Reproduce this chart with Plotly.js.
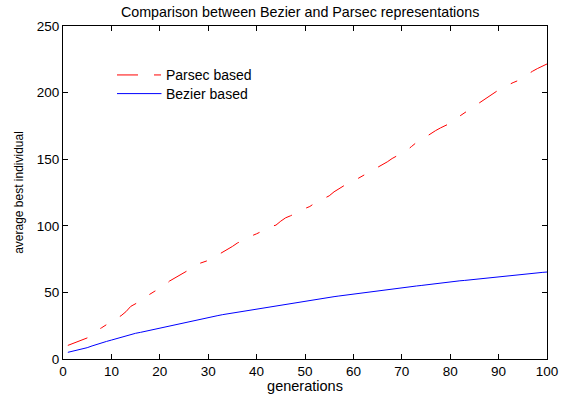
<!DOCTYPE html>
<html>
<head>
<meta charset="utf-8">
<script src="https://cdn.plot.ly/plotly-3.0.1.min.js"></script>
<style>html,body{margin:0;padding:0;background:#fff}#chart{width:565px;height:394px}</style>
</head>
<body>
<div id="chart"></div>
<script>
var generations = [];
for (var i = 1; i <= 100; i++) generations.push(i);

var parsecValues = [
  10.2, 11.5, 12.8, 14.2, 15.8, 18.5, 21.5, 23.5, 26.0, 28.5,
  30.5, 32.5, 35.5, 39.5, 41.5, 43.5, 46.5, 49.0, 51.0, 52.5,
  55.0, 58.5, 60.5, 62.5, 64.5, 66.5, 69.0, 71.5, 72.5, 74.0,
  76.0, 78.0, 80.0, 82.0, 84.5, 87.0, 89.0, 90.5, 92.5, 94.0,
  95.5, 97.5, 99.5, 100.5, 103.5, 106.0, 107.5, 109.0, 111.0, 113.0,
  114.5, 117.0, 119.0, 121.0, 122.5, 125.5, 128.0, 130.0, 131.5, 133.5,
  135.5, 137.5, 140.0, 142.0, 144.0, 145.5, 148.0, 150.5, 152.5, 154.0,
  156.5, 159.5, 162.5, 164.5, 167.0, 169.5, 171.5, 173.5, 175.0, 177.0,
  180.0, 182.5, 185.0, 187.0, 189.5, 192.0, 195.0, 197.5, 199.5, 202.0,
  204.0, 206.0, 207.5, 209.0, 211.5, 213.5, 216.0, 218.0, 220.0, 221.5
];

var bezierValues = [
  5.0, 5.8, 6.5, 7.3, 8.5, 9.8, 11.0, 12.5, 13.2, 14.2,
  15.3, 16.3, 17.2, 18.3, 19.3, 20.0, 20.8, 21.8, 22.5, 23.3,
  24.3, 25.0, 25.5, 26.3, 27.3, 28.3, 29.0, 29.8, 30.5, 31.3,
  32.0, 32.6, 33.3, 33.9, 34.6, 35.2, 35.7, 36.3, 36.9, 37.5,
  38.2, 38.9, 39.6, 40.2, 40.8, 41.3, 42.0, 42.5, 43.0, 43.7,
  44.3, 44.8, 45.3, 45.8, 46.3, 46.8, 47.3, 47.8, 48.3, 48.7,
  49.2, 49.6, 50.0, 50.5, 51.0, 51.5, 52.0, 52.5, 53.0, 53.6,
  54.0, 54.3, 54.8, 55.2, 55.7, 56.1, 56.6, 57.0, 57.5, 58.0,
  58.3, 58.7, 59.0, 59.4, 59.8, 60.3, 60.7, 61.0, 61.4, 61.8,
  62.2, 62.4, 62.8, 63.2, 63.5, 63.9, 64.3, 64.6, 65.0, 65.3
];

var seriesNames = ['Parsec based', 'Bezier based'];
var seriesColors = ['#ff0000', '#0000ff'];
var seriesDash = ['21px,16px,7px,16px', 'solid'];

var xTicks = [0, 10, 20, 30, 40, 50, 60, 70, 80, 90, 100];
var yTicks = [0, 50, 100, 150, 200, 250];

var FAMILY = 'Liberation Sans, Arial, sans-serif';
var tickFont = {family: FAMILY, size: 13.5, color: '#000'};

var traces = [
  {x: generations, y: parsecValues, type: 'scatter', mode: 'lines', name: seriesNames[0],
   line: {color: seriesColors[0], width: 1, dash: seriesDash[0]}},
  {x: generations, y: bezierValues, type: 'scatter', mode: 'lines', name: seriesNames[1],
   line: {color: seriesColors[1], width: 1, dash: seriesDash[1]}}
];

var axisCommon = {
  showgrid: false, zeroline: false, showline: true, linecolor: '#000', linewidth: 1,
  mirror: 'ticks', ticks: 'inside', ticklen: 5, tickcolor: '#000', tickwidth: 1,
  tickfont: tickFont
};

// legend drawn as decoration (paper coordinates)
var legendRows = [0.853, 0.797];
var shapes = [], annotations = [];
for (var k = 0; k < 2; k++) {
  shapes.push({type: 'line', xref: 'paper', yref: 'paper', x0: 0.1116, x1: 0.2035,
               y0: legendRows[k], y1: legendRows[k],
               line: {color: seriesColors[k], width: 1, dash: seriesDash[k]}});
  annotations.push({xref: 'paper', yref: 'paper', x: 0.2128, y: legendRows[k], xanchor: 'left', yanchor: 'middle',
                    text: seriesNames[k], showarrow: false, xshift: -2,
                    font: {family: FAMILY, size: 14, color: '#000'}});
}

var layout = {
  width: 565, height: 394,
  margin: {l: 63, r: 18, t: 26, b: 35},
  paper_bgcolor: '#fff', plot_bgcolor: '#fff',
  font: {family: FAMILY, size: 14, color: '#000'},
  title: {text: 'Comparison between Bezier and Parsec representations',
          font: {family: FAMILY, size: 14.3, color: '#000'},
          x: 0.49, xref: 'paper', xanchor: 'center', y: 1 - 12/394, yref: 'container', yanchor: 'middle'},
  xaxis: Object.assign({}, axisCommon, {range: [0, 100], tickvals: xTicks, ticktext: xTicks.map(String),
          title: {text: 'generations', font: {family: FAMILY, size: 14.5, color: '#000'}, standoff: 3}}),
  yaxis: Object.assign({}, axisCommon, {range: [0, 250], tickvals: yTicks, ticktext: yTicks.map(String),
          title: {text: 'average best individual', font: {family: FAMILY, size: 12, color: '#000'}, standoff: 10}}),
  showlegend: false,
  shapes: shapes,
  annotations: annotations
};

Plotly.newPlot('chart', traces, layout, {displayModeBar: false, staticPlot: true});
</script>
</body>
</html>
